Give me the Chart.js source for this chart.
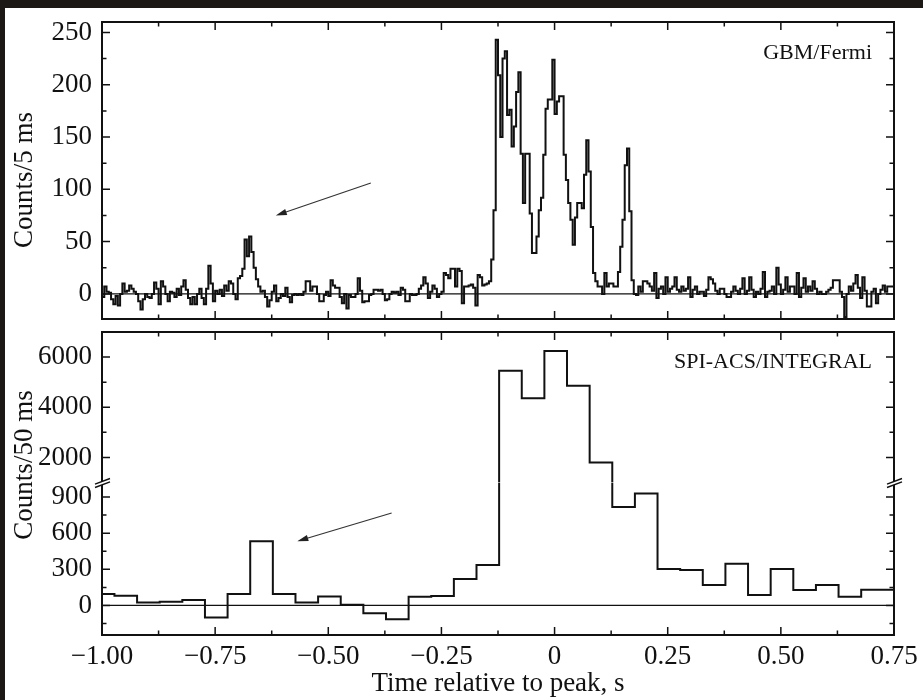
<!DOCTYPE html>
<html>
<head>
<meta charset="utf-8">
<script src="https://cdn.jsdelivr.net/npm/chart.js@4.4.1/dist/chart.umd.min.js"></script>
<style>
  html, body { margin: 0; padding: 0; background: #fff; }
  #wrap { position: relative; width: 923px; height: 700px; overflow: hidden; background: #fff; }
  #gbm { position: absolute; left: 0; top: 0; }
  #spi { position: absolute; left: 0; top: 322px; }
  .edge { position: absolute; background: #1b1815; z-index: 5; }
</style>
</head>
<body>
<div id="wrap">
  <canvas id="gbm" width="923" height="332"></canvas>
  <canvas id="spi" width="923" height="378"></canvas>
  <div class="edge" style="left:0;top:0;width:923px;height:8px"></div>
  <div class="edge" style="left:0;top:0;width:5px;height:700px"></div>
</div>
<script>
// GBM/Fermi light curve, 5 ms bins from -1.0 s
const gbmStart = -1.0;
const gbmBin = 0.005;
const gbmCounts = [
  -3, 7, 2, 1, -5, -10, -2, -11, 0, 10,
  2, 3, 8, 5, 2, 0, -7, -15, -5, 0,
  -3, -4, 0, 11, 5, -10, 12, 7, 0, -7,
  2, 1, -3, 5, -1, 7, 13, 4, -4, -10,
  -3, -10, 0, 5, -4, -10, 5, 27, 10, -7,
  3, 0, 4, -2, 8, 3, 12, 10, 0, -5,
  15, 17, 24, 52, 36, 55, 40, 25, 14, 7,
  2, 3, -3, -12, -6, 2, 8, -7, -4, 0,
  -2, 6, -3, -8, -1, 0, -1, 0, -1, 2,
  12, 12, 3, 7, 7, 0, -7, -7, -1, 2,
  -2, 13, 8, 6, 6, -3, -9, 0, -14, -1,
  -3, -3, 0, 15, 3, -8, -7, -7, -1, 0,
  4, 4, 3, 4, 0, -6, -5, 0, 2, 1,
  2, -1, 6, 4, -7, -7, 0, -1, -1, 0,
  5, 8, 16, 10, -4, 2, 8, 5, -3, 0,
  2, 20, 18, 15, 24, 24, 7, 24, 22, -9,
  7, 7, 8, 9, 6, -11, 18, 16, 8, 9,
  10, 12, 33, 80, 243, 209, 150, 225, 232, 171,
  176, 141, 160, 193, 212, 134, 87, 134, 134, 77,
  39, 39, 55, 80, 92, 133, 177, 186, 186, 224,
  172, 184, 189, 189, 133, 109, 87, 71, 47, 73,
  87, 87, 82, 114, 147, 117, 64, 20, 12, 7,
  7, 0, 20, 7, 10, 10, 7, 7, 21, 45,
  71, 123, 139, 79, 13, 0, -1, 7, 2, 12,
  12, 10, 7, 3, 20, -4, 5, 7, 0, 16,
  2, 5, 7, 16, 4, 2, 7, 3, 5, 16,
  -3, 4, 7, 0, 2, 2, -2, 4, 16, 14,
  10, 3, 0, 5, 5, 0, -3, -3, 2, 7,
  3, 0, 5, 15, 0, 3, 16, 4, -3, 2,
  0, 5, 21, -3, 2, 3, 7, 0, 25, 9,
  0, 4, 16, 2, 7, 7, 0, 20, -3, 6,
  15, 2, 7, 3, 12, 5, 0, 2, 0, 0,
  2, 4, 6, 13, 13, 13, 2, -3, -22, 0,
  7, 3, 10, 18, 6, -4, 16, 3, -12, -12,
  2, 5, -9, 0, 4, 8, 2, 7, 7, 7
];

// SPI-ACS/INTEGRAL light curve, 50 ms bins
const spiStart = -1.0225;
const spiBin = 0.05;
const spiCounts = [
  95, 81, 25, 31, 45, -100, 95, 533, 95, 25,
  75, 6, -64, -114, 72, 78, 220, 336, 5460, 4360,
  6240, 4860, 1800, 817, 928, 303, 295, 170, 345, 86,
  303, 128, 170, 72, 131, 131
];

const timeTicks = [-1, -0.75, -0.5, -0.25, 0, 0.25, 0.5, 0.75];
const gbmTicks = [0, 50, 100, 150, 200, 250];
const spiLowTicks = [0, 300, 600, 900];
const spiHighTicks = [2000, 4000, 6000];

const FONT = 'Liberation Serif';
const INK = '#111';
const axisFont = { family: FONT, size: 27 };

function stepPoints(start, bin, counts) {
  const pts = counts.map((c, i) => ({ x: start + i * bin, y: c }));
  pts.push({ x: start + counts.length * bin, y: counts[counts.length - 1] });
  return pts;
}

function fmtTime(v) {
  if (Math.abs(v) < 1e-9) return '0';
  return (v < 0 ? '\u2212' : '') + Math.abs(v).toFixed(2);
}

function setTicks(list) {
  return s => { s.ticks = list.map(v => ({ value: v })); };
}

// inward tick marks on both sides of the frame
function tickMarks(ctx, a, scale, majors, minorStep, horizontal) {
  const vals = majors.map(v => [v, 8]);
  const first = Math.ceil(scale.min / minorStep) * minorStep;
  for (let v = first; v <= scale.max + 1e-9; v += minorStep) {
    if (!majors.some(m => Math.abs(m - v) < 1e-6)) vals.push([v, 4.5]);
  }
  ctx.beginPath();
  vals.forEach(([v, len]) => {
    const p = scale.getPixelForValue(v);
    if (horizontal) {
      if (p < a.left + 2 || p > a.right - 2) return;
      ctx.moveTo(p, a.top); ctx.lineTo(p, a.top + len);
      ctx.moveTo(p, a.bottom); ctx.lineTo(p, a.bottom - len);
    } else {
      if (p < scale.top + 2 || p > scale.bottom - 2) return;
      ctx.moveTo(a.left, p); ctx.lineTo(a.left + len, p);
      ctx.moveTo(a.right, p); ctx.lineTo(a.right - len, p);
    }
  });
  ctx.stroke();
}

function arrow(ctx, x0, y0, x1, y1) {
  const ang = Math.atan2(y1 - y0, x1 - x0);
  const L = 11, W = 3.2;
  const c = Math.cos(ang), s = Math.sin(ang);
  ctx.beginPath();
  ctx.moveTo(x0, y0);
  ctx.lineTo(x1 - L * 0.7 * c, y1 - L * 0.7 * s);
  ctx.stroke();
  ctx.beginPath();
  ctx.moveTo(x1, y1);
  ctx.lineTo(x1 - L * c + W * s, y1 - L * s - W * c);
  ctx.lineTo(x1 - L * c - W * s, y1 - L * s + W * c);
  ctx.closePath();
  ctx.fill();
}

function breakMark(ctx, x, y) {
  ctx.fillStyle = '#fff';
  ctx.beginPath();
  ctx.moveTo(x - 6, y + 1.5); ctx.lineTo(x + 8, y - 3.8);
  ctx.lineTo(x + 8, y - 0.6); ctx.lineTo(x - 6, y + 4.6);
  ctx.closePath(); ctx.fill();
  ctx.beginPath();
  ctx.moveTo(x - 7, y + 1.6); ctx.lineTo(x + 8, y - 4);
  ctx.moveTo(x - 7, y + 5); ctx.lineTo(x + 8, y - 0.6);
  ctx.stroke();
}

// frame, ticks, zero line, labels and arrows of one panel
function panelDecor(cfg) {
  return {
    id: 'panelDecor',
    beforeDatasetsDraw(chart) {
      const { ctx, chartArea: a } = chart;
      const y0 = chart.scales[cfg.zeroAxis].getPixelForValue(0);
      ctx.save();
      ctx.strokeStyle = INK;
      ctx.lineWidth = 1.3;
      ctx.beginPath(); ctx.moveTo(a.left, y0); ctx.lineTo(a.right, y0); ctx.stroke();
      ctx.restore();
    },
    afterDraw(chart) {
      const { ctx, chartArea: a } = chart;
      ctx.save();
      ctx.strokeStyle = INK;
      ctx.fillStyle = INK;
      ctx.lineWidth = 1.5;
      tickMarks(ctx, a, chart.scales.x, timeTicks, 0.125, true);
      cfg.yTicks.forEach(t => tickMarks(ctx, a, chart.scales[t.id], t.majors, t.minor, false));
      ctx.lineWidth = 2;
      ctx.strokeRect(a.left, a.top, a.right - a.left, a.bottom - a.top);

      if (cfg.breakAt) {
        const yb = chart.scales[cfg.breakAt].top;
        ctx.lineWidth = 1.4;
        breakMark(ctx, a.left, yb);
        breakMark(ctx, a.right, yb);
      }

      ctx.strokeStyle = '#333';
      ctx.fillStyle = '#222';
      ctx.lineWidth = 1.2;
      const xs = chart.scales.x, ya = chart.scales[cfg.arrow.axis];
      arrow(ctx, xs.getPixelForValue(cfg.arrow.from[0]), ya.getPixelForValue(cfg.arrow.from[1]),
        xs.getPixelForValue(cfg.arrow.to[0]), ya.getPixelForValue(cfg.arrow.to[1]));

      ctx.fillStyle = INK;
      ctx.font = '22px "' + FONT + '"';
      ctx.textAlign = 'right';
      ctx.textBaseline = 'middle';
      ctx.fillText(cfg.label, a.right - 22, a.top + cfg.labelDy);

      ctx.font = '27px "' + FONT + '"';
      ctx.textAlign = 'center';
      ctx.translate(cfg.yTitle.x, cfg.yTitle.y);
      ctx.rotate(-Math.PI / 2);
      ctx.fillText(cfg.yTitle.text, 0, 0);
      ctx.restore();
    }
  };
}

// keep each SPI dataset inside the band of its own (stacked) y axis
const clipToAxis = {
  id: 'clipToAxis',
  beforeDatasetDraw(chart, args) {
    const ys = chart.scales[args.meta.yAxisID];
    const a = chart.chartArea;
    chart.ctx.save();
    chart.ctx.beginPath();
    chart.ctx.rect(a.left, ys.top, a.right - a.left, ys.bottom - ys.top);
    chart.ctx.clip();
  },
  afterDatasetDraw(chart) {
    chart.ctx.restore();
  }
};

const lineStyle = {
  borderColor: INK,
  borderWidth: 2,
  pointRadius: 0,
  stepped: true,
  fill: false
};

const yBase = {
  grid: { display: false, drawTicks: false },
  border: { display: false },
  ticks: { padding: 10, font: axisFont, color: INK, autoSkip: false, callback: v => String(v) },
  afterFit: s => { s.width = 102; s.paddingTop = 0; s.paddingBottom = 0; }
};

new Chart(document.getElementById('gbm'), {
  type: 'line',
  data: {
    datasets: [Object.assign({ data: stepPoints(gbmStart, gbmBin, gbmCounts) }, lineStyle)]
  },
  options: {
    responsive: false,
    animation: false,
    devicePixelRatio: 1,
    events: [],
    layout: { padding: { left: 0, right: 29, top: 22, bottom: 13 } },
    plugins: { legend: { display: false }, tooltip: { enabled: false } },
    scales: {
      x: { type: 'linear', min: -1, max: 0.75, display: false },
      y: Object.assign({}, yBase, {
        min: -24, max: 260,
        afterBuildTicks: setTicks(gbmTicks)
      })
    }
  },
  plugins: [panelDecor({
    zeroAxis: 'y',
    yTicks: [{ id: 'y', majors: gbmTicks, minor: 25 }],
    label: 'GBM/Fermi',
    labelDy: 31,
    arrow: { axis: 'y', from: [-0.406, 106], to: [-0.616, 75] },
    yTitle: { text: 'Counts/5 ms', x: 25, y: 180 }
  })]
});

const spiPoints = stepPoints(spiStart, spiBin, spiCounts);

new Chart(document.getElementById('spi'), {
  type: 'line',
  data: {
    datasets: [
      Object.assign({ data: spiPoints, yAxisID: 'yLow' }, lineStyle),
      Object.assign({ data: spiPoints, yAxisID: 'yHigh' }, lineStyle)
    ]
  },
  options: {
    responsive: false,
    animation: false,
    devicePixelRatio: 1,
    events: [],
    layout: { padding: { left: 0, right: 29, top: 10, bottom: 0 } },
    plugins: { legend: { display: false }, tooltip: { enabled: false } },
    scales: {
      x: {
        type: 'linear', min: -1, max: 0.75,
        grid: { display: false, drawTicks: false },
        border: { display: false },
        afterBuildTicks: setTicks(timeTicks),
        afterFit: s => { s.height = 65; s.paddingLeft = 0; s.paddingRight = 0; },
        ticks: { padding: 6, font: axisFont, color: INK, autoSkip: false, maxRotation: 0, minRotation: 0, callback: v => fmtTime(v) },
        title: { display: true, text: 'Time relative to peak, s', font: axisFont, color: INK, padding: { top: 0, bottom: 0 } }
      },
      yLow: Object.assign({}, yBase, {
        position: 'left', stack: 'spi', stackWeight: 152,
        min: -245, max: 1020,
        afterBuildTicks: setTicks(spiLowTicks)
      }),
      yHigh: Object.assign({}, yBase, {
        position: 'left', stack: 'spi', stackWeight: 150,
        min: 1000, max: 7000,
        afterBuildTicks: setTicks(spiHighTicks)
      })
    }
  },
  plugins: [clipToAxis, panelDecor({
    zeroAxis: 'yLow',
    yTicks: [{ id: 'yLow', majors: spiLowTicks, minor: 150 }, { id: 'yHigh', majors: spiHighTicks, minor: 1000 }],
    breakAt: 'yLow',
    label: 'SPI-ACS/INTEGRAL',
    labelDy: 30,
    arrow: { axis: 'yLow', from: [-0.36, 767], to: [-0.5685, 533] },
    yTitle: { text: 'Counts/50 ms', x: 25, y: 143 }
  })]
});
</script>
</body>
</html>
